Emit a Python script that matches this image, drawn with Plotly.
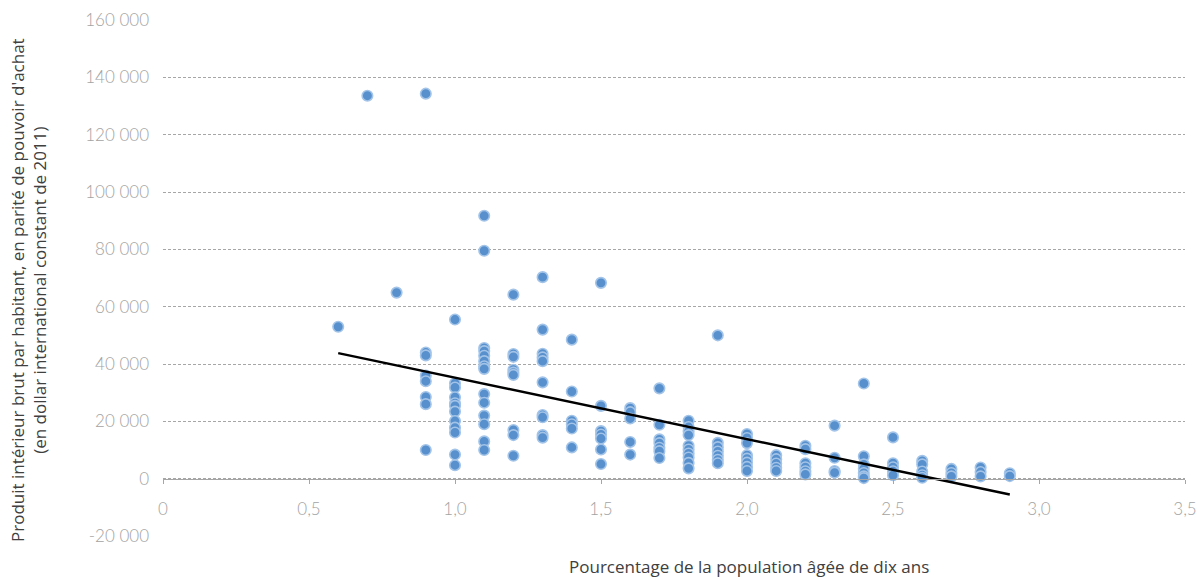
import plotly.graph_objects as go

# ---- data ----
x_levels = [0.6, 0.7, 0.8, 0.9, 1.0, 1.1, 1.2, 1.3, 1.4, 1.5, 1.6, 1.7,
            1.8, 1.9, 2.0, 2.1, 2.2, 2.3, 2.4, 2.5, 2.6, 2.7, 2.8, 2.9]
gdp_at_06 = [53000]
gdp_at_07 = [133600]
gdp_at_08 = [64900]
gdp_at_09 = [134300, 44000, 43000, 36000, 34000, 28500, 26000, 10000]
gdp_at_10 = [55500, 33300, 31800, 28400, 26300, 25400, 23400, 20100, 17800, 16100, 8400, 4700]
gdp_at_11 = [91700, 79500, 45600, 44500, 42900, 41000, 39200, 38300, 29500, 26500, 22000, 19000, 13000, 10000]
gdp_at_12 = [64200, 43500, 42500, 38000, 37000, 36200, 17000, 15200, 8000]
gdp_at_13 = [70300, 52000, 43600, 42300, 41000, 33600, 22200, 21400, 15200, 14300]
gdp_at_14 = [48500, 30400, 20200, 19000, 17500, 10900]
gdp_at_15 = [68300, 25400, 16600, 15400, 14000, 10200, 5100]
gdp_at_16 = [24600, 23200, 21000, 12800, 8400]
gdp_at_17 = [31500, 18800, 13700, 12400, 10800, 9600, 7200]
gdp_at_18 = [20200, 18000, 16500, 15200, 11500, 10200, 8800, 7400, 5500, 3600]
gdp_at_19 = [50000, 12500, 11000, 9500, 8000, 6600, 5400]
gdp_at_20 = [15600, 14200, 12400, 8200, 7000, 5600, 4100, 2700]
gdp_at_21 = [8200, 6800, 5300, 3800, 2700]
gdp_at_22 = [11500, 10300, 5400, 4000, 2600, 1500]
gdp_at_23 = [18500, 7300, 2700, 2100]
gdp_at_24 = [33200, 7800, 5000, 3500, 2000, 800, 200]
gdp_at_25 = [14400, 5400, 4000, 2600, 1200]
gdp_at_26 = [6200, 5000, 2500, 1200, 300]
gdp_at_27 = [3400, 2000, 800]
gdp_at_28 = [3900, 2300, 800]
gdp_at_29 = [1900, 900]

gdp_columns = [gdp_at_06, gdp_at_07, gdp_at_08, gdp_at_09, gdp_at_10, gdp_at_11,
               gdp_at_12, gdp_at_13, gdp_at_14, gdp_at_15, gdp_at_16, gdp_at_17,
               gdp_at_18, gdp_at_19, gdp_at_20, gdp_at_21, gdp_at_22, gdp_at_23,
               gdp_at_24, gdp_at_25, gdp_at_26, gdp_at_27, gdp_at_28, gdp_at_29]

trend_x = [0.6, 2.9]
trend_y = [43800, -5500]

x_tickvals = [0, 0.5, 1.0, 1.5, 2.0, 2.5, 3.0, 3.5]
x_ticktext = ["0", "0,5", "1,0", "1,5", "2,0", "2,5", "3,0", "3,5"]
y_tickvals = [-20000, 0, 20000, 40000, 60000, 80000, 100000, 120000, 140000, 160000]
y_ticktext = ["-20 000", "0", "20 000", "40 000", "60 000", "80 000",
              "100 000", "120 000", "140 000", "160 000"]

x_title = "Pourcentage de la population âgée de dix ans"
y_title = ("Produit intérieur brut par habitant, en parité de pouvoir d'achat<br>"
           "(en dollar international constant de 2011)")

# ---- flatten ----
xs, ys = [], []
for xv, col in zip(x_levels, gdp_columns):
    for v in col:
        xs.append(xv)
        ys.append(v)

fig = go.Figure()
fig.add_trace(go.Scatter(
    x=xs, y=ys, mode="markers",
    marker=dict(size=10.5, color="#5790cc",
                line=dict(color="#a3c4e8", width=1.6)),
    showlegend=False, hoverinfo="x+y"))
fig.add_trace(go.Scatter(
    x=trend_x, y=trend_y, mode="lines",
    line=dict(color="black", width=2.5),
    showlegend=False))

y_min, y_max = -20000, 160000
tick_font = dict(size=17, color="#a3a3a3", family="Lato", weight=300)
title_font = dict(size=17, color="#404040", family="Open Sans")

W, H = 1198, 577
L, R, T, B = 163, 13, 20, 41
plot_w, plot_h = W - L - R, H - T - B

fig.update_layout(
    width=W, height=H,
    margin=dict(l=L, r=R, t=T, b=B),
    paper_bgcolor="white", plot_bgcolor="white",
    font=dict(family="Open Sans, Lato, sans-serif", color="#404040"),
    xaxis=dict(
        range=[0, 3.5], tickvals=x_tickvals, ticktext=x_ticktext,
        showgrid=False, zeroline=False,
        showline=True, linecolor="#a6a6a6", linewidth=1.3,
        ticks="outside", ticklen=4, tickcolor="#a6a6a6",
        ticklabelstandoff=11,
        tickfont=tick_font,
        anchor="free", position=(0 - y_min) / (y_max - y_min),
        automargin=False,
    ),
    yaxis=dict(
        range=[y_min, y_max], tickvals=y_tickvals, ticktext=y_ticktext,
        showgrid=True, gridcolor="#a6a6a6", gridwidth=1, griddash="3px,2px",
        zeroline=False, showline=False, ticks="",
        ticklabelstandoff=13,
        tickfont=tick_font,
        automargin=False,
    ),
    annotations=[
        dict(text=x_title, xref="paper", yref="paper",
             x=(749 - L) / plot_w, y=(H - B - 566) / plot_h,
             xanchor="center", yanchor="middle", showarrow=False,
             font=title_font),
        dict(text=y_title, xref="paper", yref="paper",
             x=(28 - L) / plot_w, y=(H - B - 290) / plot_h,
             xanchor="center", yanchor="middle", showarrow=False,
             textangle=-90, align="center", font=title_font),
    ],
)

fig.write_html("out.html",
               config={"displayModeBar": False},
               post_script="document.body.style.margin='0px';"
                           "document.body.style.overflow='hidden';")
